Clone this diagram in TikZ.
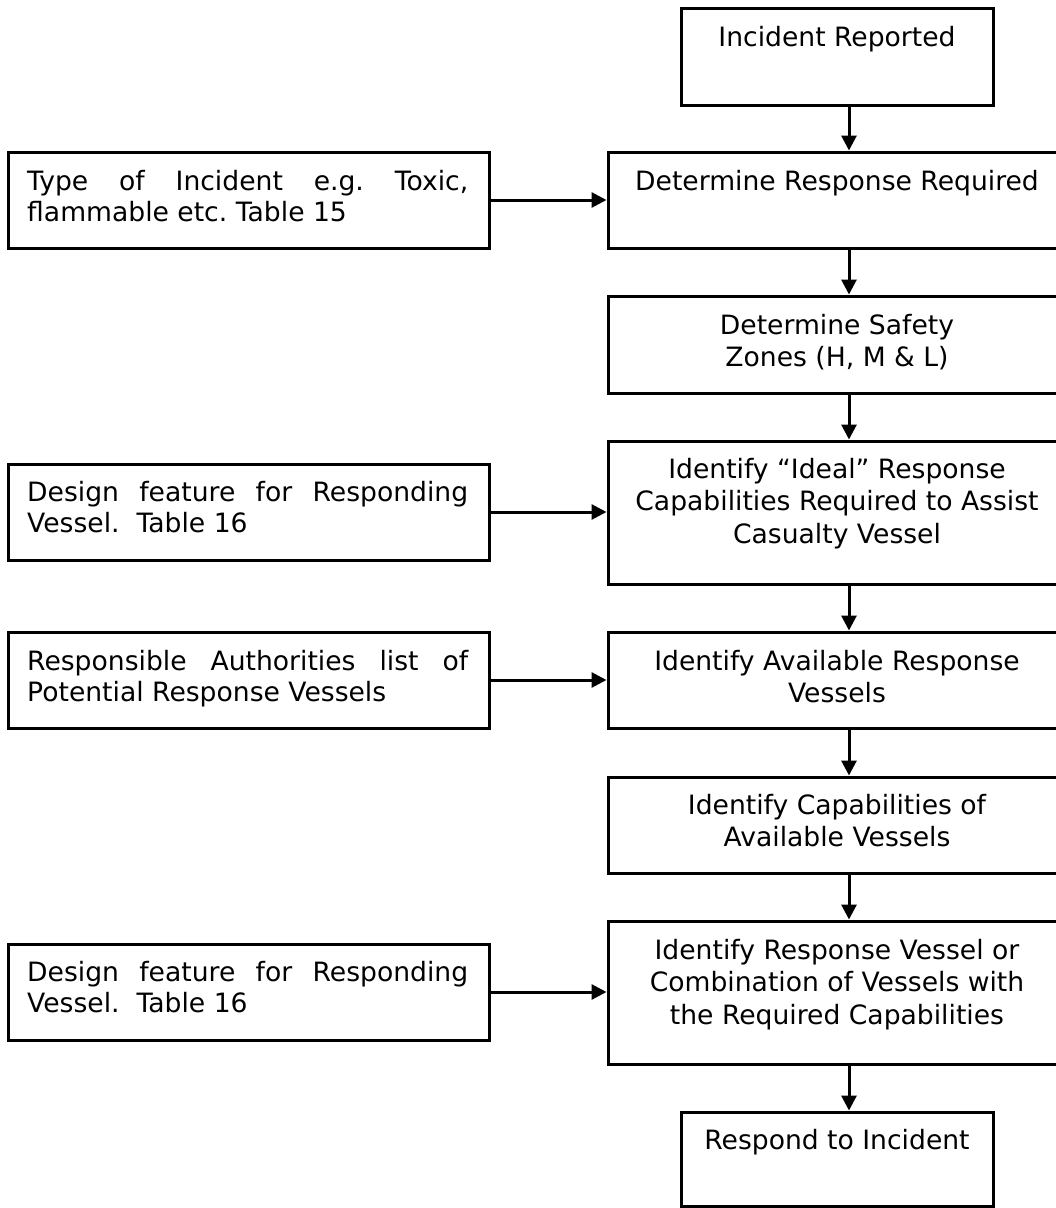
\documentclass[tikz,border=0pt]{standalone}
\usepackage{fontspec}
\setmainfont{DejaVu Sans}
\usetikzlibrary{arrows.meta}
\tikzset{
  box/.style={draw=black, line width=3pt, rectangle, inner sep=0pt, minimum width=458pt},
  lbox/.style={draw=black, line width=3pt, rectangle, inner sep=0pt, minimum width=481pt},
  sbox/.style={draw=black, line width=3pt, rectangle, inner sep=0pt, minimum width=312pt},
  rtxt/.style={anchor=base, inner sep=0pt, font=\fontsize{26.6}{32.5}\selectfont},
  ltxt/.style={anchor=base west, inner sep=0pt, font=\fontsize{26.6}{31}\selectfont},
  arr/.style={line width=3pt, -{Triangle[length=15pt,width=15pt]}}
}
\frenchspacing
\newcommand{\rtext}[1]{\parbox[t]{450pt}{\centering #1}}
\newcommand{\ltext}[1]{\parbox[t]{441pt}{#1}}
\begin{document}
\begin{tikzpicture}[x=1pt,y=-1pt]
\useasboundingbox (0,0) rectangle (1056,1208);
\clip (0,0) rectangle (1056,1208);
% right column boxes
\node[sbox, minimum height=97pt] (inc) at (837,56.5) {};
\node[box, minimum height=96pt] (drr) at (837,200) {};
\node[box, minimum height=97pt] (dsz) at (837,344.5) {};
\node[box, minimum height=143pt] (idl) at (837,512.5) {};
\node[box, minimum height=96pt] (iav) at (837,680) {};
\node[box, minimum height=96pt] (icp) at (837,825) {};
\node[box, minimum height=143pt] (irv) at (837,992.5) {};
\node[sbox, minimum height=94pt] (rsp) at (837,1159) {};
% left boxes
\node[lbox, minimum height=96pt] (l1) at (248.5,200) {};
\node[lbox, minimum height=96pt] (l2) at (248.5,512) {};
\node[lbox, minimum height=96pt] (l3) at (248.5,680) {};
\node[lbox, minimum height=96pt] (l4) at (248.5,992) {};
% texts right
\node[rtxt] (tinc) at (837,46) {\rtext{Incident Reported}};
\node[rtxt] (tdrr) at (837,190) {\rtext{Determine Response Required}};
\node[rtxt] (tdsz) at (837,334) {\rtext{Determine Safety\\Zones (H, M \& L)}};
\node[rtxt] (tidl) at (837,478) {\rtext{Identify “Ideal” Response\\Capabilities Required to Assist\\Casualty Vessel}};
\node[rtxt] (tiav) at (837,670) {\rtext{Identify Available Response\\Vessels}};
\node[rtxt] (ticp) at (837,814) {\rtext{Identify Capabilities of\\Available Vessels}};
\node[rtxt] (tirv) at (837,959) {\rtext{Identify Response Vessel or\\Combination of Vessels with\\the Required Capabilities}};
\node[rtxt] (trsp) at (837,1149) {\rtext{Respond to Incident}};
% texts left
\node[ltxt] (tl1) at (27,190) {\ltext{Type of Incident e.g. Toxic,\linebreak flammable etc. Table 15}};
\node[ltxt] (tl2) at (27,501) {\ltext{Design feature for Responding\linebreak Vessel.\ \ Table 16}};
\node[ltxt] (tl3) at (27,670) {\ltext{Responsible Authorities list of\linebreak Potential Response Vessels}};
\node[ltxt] (tl4) at (27,981) {\ltext{Design feature for Responding\linebreak Vessel.\ \ Table 16}};
% vertical connectors
\coordinate (ax) at (849,0);
\draw[arr] (inc.south -| ax) -- (drr.north -| ax);
\draw[arr] (drr.south -| ax) -- (dsz.north -| ax);
\draw[arr] (dsz.south -| ax) -- (idl.north -| ax);
\draw[arr] (idl.south -| ax) -- (iav.north -| ax);
\draw[arr] (iav.south -| ax) -- (icp.north -| ax);
\draw[arr] (icp.south -| ax) -- (irv.north -| ax);
\draw[arr] (irv.south -| ax) -- (rsp.north -| ax);
% horizontal connectors
\draw[arr] (l1.east) -- (l1.east -| drr.west);
\draw[arr] (l2.east) -- (l2.east -| idl.west);
\draw[arr] (l3.east) -- (l3.east -| iav.west);
\draw[arr] (l4.east) -- (l4.east -| irv.west);
\end{tikzpicture}
\end{document}
